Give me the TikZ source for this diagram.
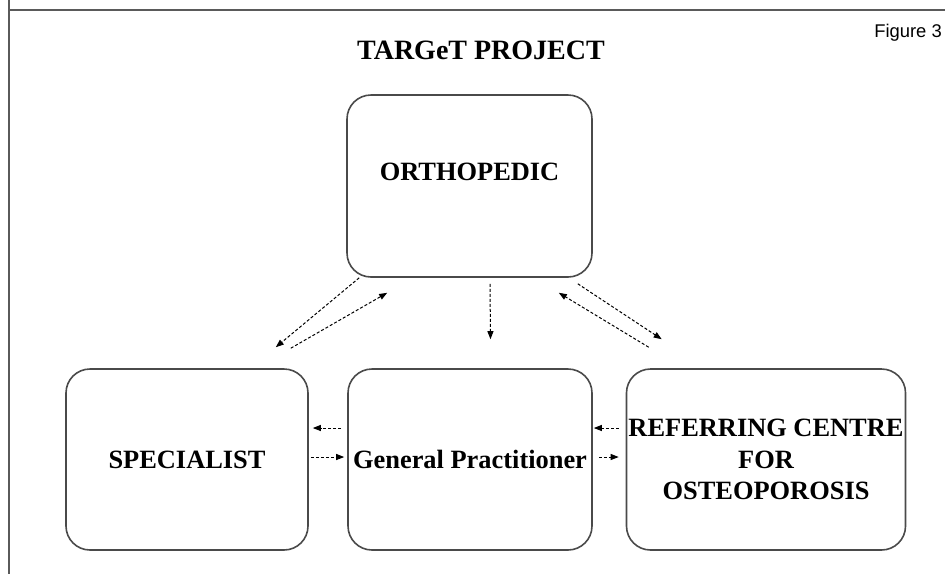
\documentclass[tikz,border=0pt]{standalone}
\usepackage{fontspec}
\setmainfont{Liberation Serif}
\newfontfamily\figfont{Liberation Sans}
\usepackage{tikz}
\usetikzlibrary{arrows.meta, positioning}
\definecolor{boxgray}{HTML}{4A4A4A}
\definecolor{framegray}{HTML}{5A5A5A}

\begin{document}
\begin{tikzpicture}[
    x=0.5pt, y=-0.5pt,
    box/.style={rectangle, rounded corners=12pt, draw=boxgray, line width=0.8pt,
                minimum width=#1, minimum height=90.5pt, inner sep=1pt, align=center,
                font=\fontsize{13.2}{15.75}\selectfont\bfseries},
    link/.style={-{Triangle[length=4pt,width=3pt]}, dash pattern=on 1.5pt off 1pt, line width=0.5pt}
]
\useasboundingbox (0,0) rectangle (945,574);
\draw[framegray, line width=0.7pt] (9,0) -- (9,574);
\draw[framegray, line width=0.7pt] (9,10) -- (945,10);

\node[font=\fontsize{14}{17}\selectfont\bfseries] (title) at (481,50) {TARGeT PROJECT};
\node[font=\figfont\fontsize{9.2}{11}\selectfont] (fig) at (908,33) {Figure 3};

\node[box=122.5pt, minimum height=91pt, text depth=14pt] (orth) at (469.5,186) {ORTHOPEDIC};
\node[box=121pt]   (spec) at (187,459.5) {SPECIALIST};
\node[box=122pt]   (gp)   at (470,459.5) {General Practitioner};
\node[box=139pt]   (ref)  at (766,459.5) {REFERRING CENTRE\\FOR\\OSTEOPOROSIS};

\draw[link] ([xshift=6.5pt]orth.south west) -- ([xshift=-16.5pt,yshift=10.5pt]spec.north east);
\draw[link] ([xshift=-9pt,yshift=10pt]spec.north east) -- ([xshift=20.5pt,yshift=-7.5pt]orth.south west);
\draw[link] ([xshift=10.25pt,yshift=-3pt]orth.south) -- ([xshift=10.25pt,yshift=14.5pt]gp.north);
\draw[link] ([xshift=-7.5pt,yshift=-3pt]orth.south east) -- ([xshift=18pt,yshift=14.5pt]ref.north west);
\draw[link] ([xshift=11.5pt,yshift=10.5pt]ref.north west) -- ([xshift=-17pt,yshift=-7.5pt]orth.south east);

\draw[link] ([xshift=-3pt,yshift=15.75pt]gp.west) -- ([xshift=2pt,yshift=15.75pt]spec.east);
\draw[link] ([xshift=1pt,yshift=1.25pt]spec.east) -- ([xshift=-1.5pt,yshift=1.25pt]gp.west);
\draw[link] ([xshift=-3.5pt,yshift=15.75pt]ref.west) -- ([xshift=0.5pt,yshift=15.75pt]gp.east);
\draw[link] ([xshift=3pt,yshift=1.25pt]gp.east) -- ([xshift=-3.5pt,yshift=1.25pt]ref.west);
\end{tikzpicture}
\end{document}
